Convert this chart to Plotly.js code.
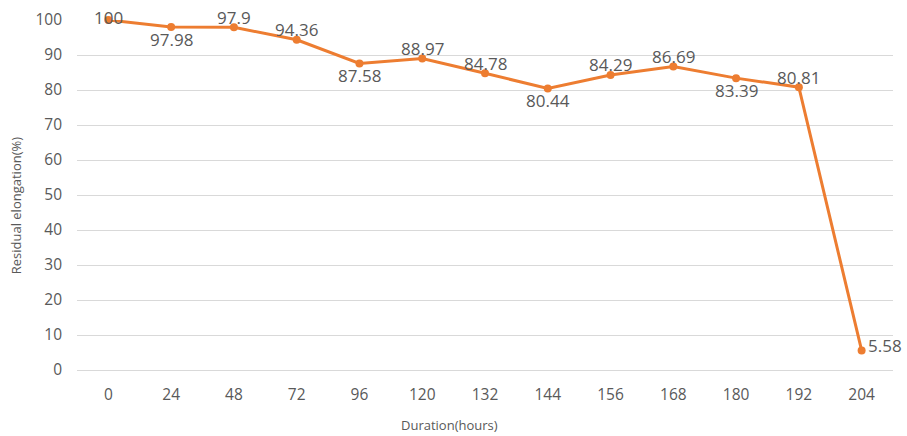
<!DOCTYPE html>
<html>
<head>
<meta charset="utf-8">
<script src="https://cdn.plot.ly/plotly-3.0.1.min.js"></script>
<style>html,body{margin:0;padding:0;background:#fff;}#chart{width:907px;height:436px;}</style>
</head>
<body>
<div id="chart"></div>
<script>
// Data
const durations = ['0','24','48','72','96','120','132','144','156','168','180','192','204'];
const residualElongation = [100, 97.98, 97.9, 94.36, 87.58, 88.97, 84.78, 80.44, 84.29, 86.69, 83.39, 80.81, 5.58];
const yTickValues = [0,10,20,30,40,50,60,70,80,90,100];
const xTitleText = 'Duration(hours)';
const yTitleText = 'Residual elongation(%)';

// Styles: label placement per point (A = above, B = below, C = centre, R = right)
const labelPlacement = ['C','B','A','A','B','A','A','B','A','A','B','A','R'];
const placementStyle = {
  A: {xanchor: 'center', yanchor: 'middle', xshift: 0, yshift: 10},
  B: {xanchor: 'center', yanchor: 'middle', xshift: 0, yshift: -12},
  C: {xanchor: 'center', yanchor: 'middle', xshift: 0, yshift: 3},
  R: {xanchor: 'left', yanchor: 'middle', xshift: 4, yshift: 5}
};
const gray = '#595959';
const fontFamily = '"Open Sans", "Noto Sans", sans-serif';

const trace = {
  type: 'scatter',
  mode: 'lines+markers',
  x: durations,
  y: residualElongation,
  line: {color: '#ED7D31', width: 3},
  marker: {color: '#ED7D31', size: 8},
  cliponaxis: false,
  hoverinfo: 'x+y'
};

// category axis: annotations are positioned by category index
const labelAnnotations = residualElongation.map((v, i) => Object.assign({
  x: i, y: v, xref: 'x', yref: 'y', text: String(v), showarrow: false,
  font: {family: fontFamily, size: 17, color: gray}
}, placementStyle[labelPlacement[i]]));

const layout = {
  width: 907,
  height: 436,
  margin: {l: 77, r: 14, t: 20, b: 66},
  paper_bgcolor: '#ffffff',
  plot_bgcolor: '#ffffff',
  showlegend: false,
  font: {family: fontFamily, color: gray},
  xaxis: {
    type: 'category',
    range: [-0.5, 12.5],
    showgrid: false,
    zeroline: false,
    showline: true,
    linecolor: '#D9D9D9',
    linewidth: 1,
    ticks: '',
    tickfont: {family: fontFamily, size: 15.5, color: gray},
    ticklabelstandoff: 10,
    fixedrange: true
  },
  yaxis: {
    range: [0, 100],
    tickvals: yTickValues,
    showgrid: true,
    gridcolor: '#D9D9D9',
    gridwidth: 1,
    zeroline: false,
    showline: false,
    ticks: '',
    tickfont: {family: fontFamily, size: 15.5, color: gray},
    ticklabelstandoff: 14,
    fixedrange: true
  },
  annotations: labelAnnotations.concat([
    {text: xTitleText, xref: 'paper', yref: 'paper', x: 0.456, y: -0.157, xanchor: 'center', yanchor: 'middle',
     showarrow: false, font: {family: fontFamily, size: 13, color: gray}},
    {text: yTitleText, xref: 'paper', yref: 'paper', x: -0.075, y: 0.47, xanchor: 'center', yanchor: 'middle', textangle: -90,
     showarrow: false, font: {family: fontFamily, size: 13, color: gray}}
  ])
};

Plotly.newPlot('chart', [trace], layout, {displayModeBar: false, staticPlot: true});
</script>
</body>
</html>
